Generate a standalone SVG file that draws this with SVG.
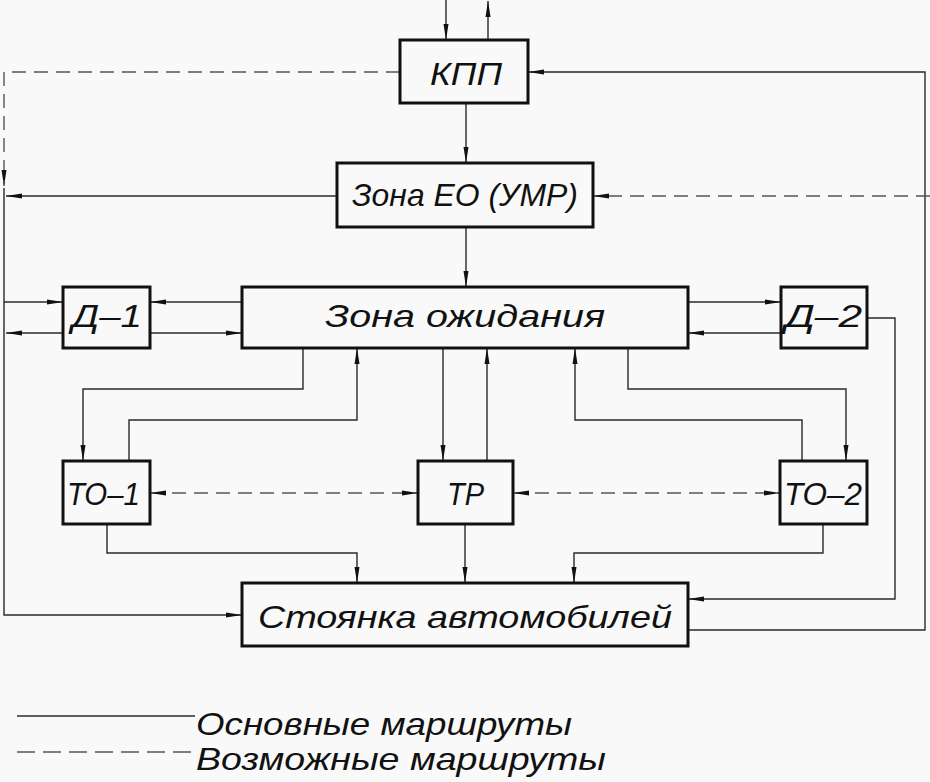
<svg xmlns="http://www.w3.org/2000/svg" width="930" height="782" viewBox="0 0 930 782">
<defs>
<style>
.box{fill:none;stroke:#111;stroke-width:3}
.ln{fill:none;stroke:#2a2a2a;stroke-width:1.4}
.ds{stroke-dasharray:14 8;stroke:#555}
.t{font-family:"Liberation Sans",Arial,sans-serif;font-style:italic;fill:#111;font-size:32px}
</style>
<marker id="a" viewBox="0 0 16 7" refX="16" refY="3.5" markerWidth="16" markerHeight="7" markerUnits="userSpaceOnUse" orient="auto-start-reverse">
<path d="M0,1 L16,3.5 L0,6 Z" fill="#111"/>
</marker>
</defs>
<rect width="930" height="782" fill="#f9f9f9"/>
<g id="connectors">
<path class="ln" d="M446,0 V40" marker-end="url(#a)"/>
<path class="ln" d="M488,40 V1" marker-end="url(#a)"/>
<path class="ln" d="M466,103 V163" marker-end="url(#a)"/>
<path class="ln" d="M466,227 V287" marker-end="url(#a)"/>
<path class="ln ds" d="M400,72 H4 V186" marker-end="url(#a)"/>
<path class="ln" d="M337,196 H6" marker-end="url(#a)"/>
<path class="ln" d="M4,188 V615 H242" marker-end="url(#a)"/>
<path class="ln" d="M4,302 H63" marker-end="url(#a)"/>
<path class="ln" d="M63,333 H6" marker-end="url(#a)"/>
<path class="ln" d="M242,302 H150" marker-end="url(#a)"/>
<path class="ln" d="M150,333 H242" marker-end="url(#a)"/>
<path class="ln" d="M688,302 H781" marker-end="url(#a)"/>
<path class="ln" d="M781,333 H688" marker-end="url(#a)"/>
<path class="ln" d="M867,318 H895 V599 H688" marker-end="url(#a)"/>
<path class="ln" d="M688,630 H925 V72 H528" marker-end="url(#a)"/>
<path class="ln ds" d="M930,196 H593" marker-end="url(#a)"/>
<path class="ln" d="M303,348 V389 H83 V461" marker-end="url(#a)"/>
<path class="ln" d="M129,461 V420 H357 V348" marker-end="url(#a)"/>
<path class="ln" d="M443,348 V461" marker-end="url(#a)"/>
<path class="ln" d="M487,461 V348" marker-end="url(#a)"/>
<path class="ln" d="M628,348 V389 H846 V461" marker-end="url(#a)"/>
<path class="ln" d="M802,461 V420 H575 V348" marker-end="url(#a)"/>
<path class="ln ds" d="M150,493 H418" marker-start="url(#a)" marker-end="url(#a)"/>
<path class="ln ds" d="M513,493 H780" marker-start="url(#a)" marker-end="url(#a)"/>
<path class="ln" d="M107,524 V553 H357 V583" marker-end="url(#a)"/>
<path class="ln" d="M465,524 V583" marker-end="url(#a)"/>
<path class="ln" d="M823,524 V553 H574 V583" marker-end="url(#a)"/>
</g>
<g id="kpp"><rect class="box" x="400" y="40" width="128" height="63"/><text class="t" x="430" y="85" font-size="40" textLength="72" lengthAdjust="spacingAndGlyphs">КПП</text></g>
<g id="zona-eo"><rect class="box" x="337" y="163" width="256" height="64"/><text class="t" x="352" y="206" font-size="33" textLength="226" lengthAdjust="spacingAndGlyphs">Зона ЕО (УМР)</text></g>
<g id="zona-ozhidaniya"><rect class="box" x="242" y="287" width="446" height="61"/><text class="t" x="325" y="327" font-size="33" textLength="280" lengthAdjust="spacingAndGlyphs">Зона ожидания</text></g>
<g id="d1"><rect class="box" x="63" y="287" width="87" height="61"/><text class="t" x="72" y="327" font-size="34" textLength="70" lengthAdjust="spacingAndGlyphs">Д–1</text></g>
<g id="d2"><rect class="box" x="781" y="287" width="86" height="61"/><text class="t" x="785" y="327" font-size="34" textLength="77" lengthAdjust="spacingAndGlyphs">Д–2</text></g>
<g id="to1"><rect class="box" x="63" y="461" width="87" height="63"/><text class="t" x="67" y="505" font-size="34" textLength="73" lengthAdjust="spacingAndGlyphs">ТО–1</text></g>
<g id="tr"><rect class="box" x="418" y="461" width="95" height="63"/><text class="t" x="447" y="505" font-size="34" textLength="37" lengthAdjust="spacingAndGlyphs">ТР</text></g>
<g id="to2"><rect class="box" x="780" y="461" width="87" height="63"/><text class="t" x="784" y="505" font-size="34" textLength="78" lengthAdjust="spacingAndGlyphs">ТО–2</text></g>
<g id="stoyanka"><rect class="box" x="242" y="583" width="446" height="63"/><text class="t" x="258" y="628" font-size="34" textLength="414" lengthAdjust="spacingAndGlyphs">Стоянка автомобилей</text></g>
<g id="legend">
<path class="ln" d="M17,716 H195"/>
<path class="ln ds" d="M17,752 H195" style="stroke-dasharray:18 8"/>
<text class="t" x="196" y="735" font-size="34" textLength="376" lengthAdjust="spacingAndGlyphs">Основные маршруты</text>
<text class="t" x="196" y="770" font-size="34" textLength="410" lengthAdjust="spacingAndGlyphs">Возможные маршруты</text>
</g>
</svg>
